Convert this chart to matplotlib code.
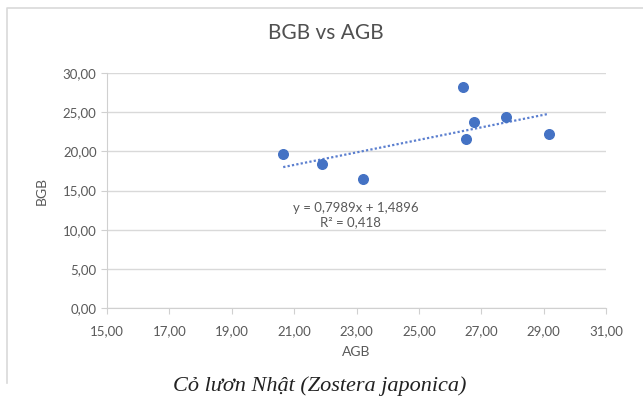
import matplotlib.pyplot as plt
import matplotlib.ticker as mticker
from matplotlib.lines import Line2D
import numpy as np

### Data
agb = [20.65, 21.88, 23.22, 26.42, 26.76, 26.50, 27.79, 29.17]
bgb = [19.63, 18.39, 16.44, 28.26, 23.79, 21.54, 24.35, 22.22]
slope = 0.7989
intercept = 1.4896
r2 = 0.418

title = "BGB vs AGB"
caption = "Cỏ lươn Nhật (Zostera japonica)"

plt.rcParams['font.family'] = ['Lato', 'DejaVu Sans']
grey = "#595959"
blue = "#4472C4"

fig = plt.figure(figsize=(6.43, 3.96), dpi=100)
W, H = 643, 396

# chart area border (left and top edges, rest cut off in the screenshot)
fig.lines.append(Line2D([7 / W, 7 / W, 1], [1 - 383 / H, 1 - 8 / H, 1 - 8 / H],
                        transform=fig.transFigure, color="#d9d9d9", linewidth=1.2))

ax = fig.add_axes([107 / W, 1 - 308 / H, (606 - 107) / W, (308 - 73) / H])

ax.scatter(agb, bgb, s=48, color=blue, zorder=3)

xf = np.linspace(min(agb), max(agb), 50)
yf = slope * xf + intercept
ax.plot(xf, yf, linestyle=(0, (1, 1)), color="#5b7fcf", linewidth=1.6, zorder=2)

ax.set_xlim(15, 31)
ax.set_ylim(0, 30)
ax.set_xticks(np.arange(15, 32, 2))
ax.set_yticks(np.arange(0, 31, 5))
fmt = mticker.FuncFormatter(lambda v, p: f"{v:.2f}".replace(".", ","))
ax.xaxis.set_major_formatter(fmt)
ax.yaxis.set_major_formatter(fmt)

ax.grid(axis="y", color="#d9d9d9", linewidth=1)
ax.set_axisbelow(True)
for s in ["top", "right"]:
    ax.spines[s].set_visible(False)
ax.spines["left"].set_color("#d0d0d0")
ax.spines["bottom"].set_color("#d0d0d0")
ax.tick_params(axis="both", colors="#d0d0d0", labelcolor=grey, labelsize=9.5, length=4)
ax.tick_params(axis="x", pad=8)

ax.set_xlabel("AGB", color=grey, fontsize=10, labelpad=7)
ax.set_ylabel("BGB", color=grey, fontsize=10, labelpad=11)

fig.text(326 / W, 1 - 33 / H, title, ha="center", va="center", color="#505050", fontsize=15)
fig.text(356 / W, 1 - 208 / H, f"y = {slope:.4f}x + {intercept:.4f}".replace(".", ","),
         ha="center", va="center", color=grey, fontsize=9.5)
fig.text(350 / W, 1 - 222 / H, f"R² = {r2:.3f}".replace(".", ","),
         ha="center", va="center", color=grey, fontsize=9.5)

fig.text(320 / W, 1 - 391 / H, caption, ha="center", va="baseline", color="#222222",
         fontsize=16, style="italic", family=["Liberation Serif", "DejaVu Serif"])

fig.savefig("out.png", dpi=100)
